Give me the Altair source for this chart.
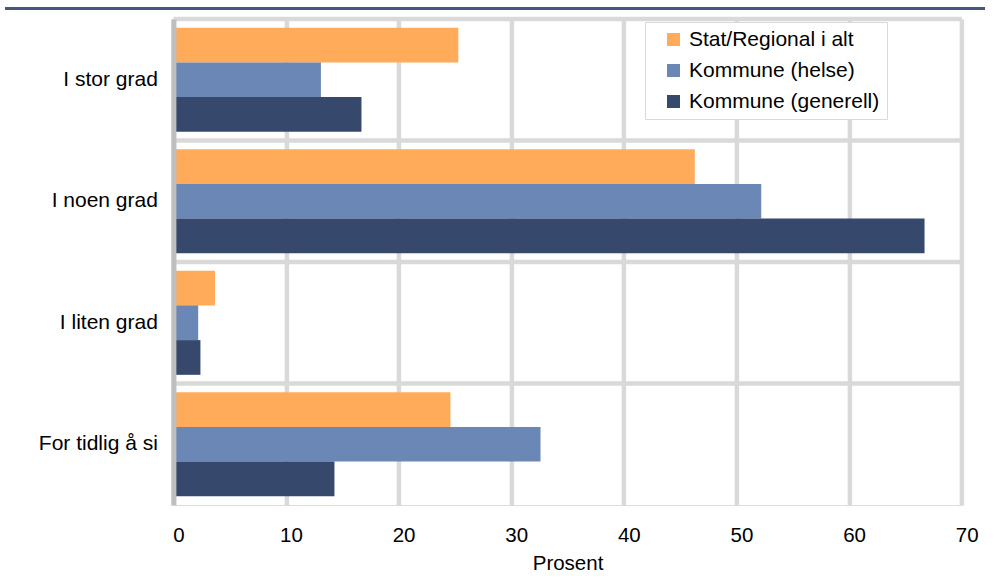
import altair as alt
import pandas as pd

# Survey answer categories (top to bottom) and respondent groups
categories = ["I stor grad", "I noen grad", "I liten grad", "For tidlig å si"]
series = ["Stat/Regional i alt", "Kommune (helse)", "Kommune (generell)"]
colors = ["#FFAB5A", "#6B87B5", "#36486B"]

# Percent per category for each group
stat_regional = [25.3, 46.3, 3.7, 24.6]
kommune_helse = [13.1, 52.2, 2.2, 32.6]
kommune_generell = [16.7, 66.7, 2.4, 14.3]

x_ticks = [0, 10, 20, 30, 40, 50, 60, 70]

rows = []
for name, vals in zip(series, [stat_regional, kommune_helse, kommune_generell]):
    for cat, v in zip(categories, vals):
        rows.append({"kategori": cat, "gruppe": name, "prosent": v})
df = pd.DataFrame(rows)
sep_df = pd.DataFrame({"kategori": categories})

FONT = "Liberation Sans"
GRID = "#D9D9D9"

y_scale = alt.Scale(domain=categories, paddingInner=0, paddingOuter=0)
y_axis = alt.Axis(
    title=None,
    grid=False,
    ticks=False,
    domain=True,
    domainColor="#BFBFBF",
    domainWidth=5,
    labelFont=FONT,
    labelFontSize=21,
    labelColor="#000000",
    labelPadding=16,
    zindex=1,
)

# Horizontal separators at the top of each category band
separators = alt.Chart(sep_df).mark_rule(color=GRID, strokeWidth=4.5).encode(
    y=alt.Y("kategori:N", sort=categories, scale=y_scale, bandPosition=0, axis=y_axis)
)

bars = alt.Chart(df).mark_bar().encode(
    x=alt.X(
        "prosent:Q",
        scale=alt.Scale(domain=[0, 70], nice=False),
        axis=alt.Axis(
            values=x_ticks,
            title="Prosent",
            grid=True,
            gridColor=GRID,
            gridWidth=4.5,
            domain=False,
            ticks=False,
            labelFont=FONT,
            labelFontSize=20.5,
            labelColor="#000000",
            labelPadding=20,
            labelOffset=5,
            labelFlush=False,
            titleFont=FONT,
            titleFontSize=20.5,
            titleFontWeight="normal",
            titleColor="#000000",
            titlePadding=8,
        ),
    ),
    y=alt.Y("kategori:N", sort=categories, scale=y_scale, axis=y_axis),
    yOffset=alt.YOffset(
        "gruppe:N",
        sort=series,
        scale=alt.Scale(domain=series, paddingInner=0, paddingOuter=0.25),
    ),
    color=alt.Color(
        "gruppe:N",
        sort=series,
        scale=alt.Scale(domain=series, range=colors),
        legend=alt.Legend(
            title=None,
            orient="none",
            legendX=471.6,
            legendY=3,
            symbolType="square",
            symbolSize=170,
            symbolStrokeWidth=0,
            symbolOffset=11,
            labelFont=FONT,
            labelFontSize=21,
            labelColor="#000000",
            labelOffset=5,
            labelLimit=400,
            rowPadding=9,
            padding=7,
            fillColor="#FFFFFF",
            strokeColor=GRID,
        ),
    ),
)

# Dark header rule across the top of the page
header = alt.Chart(sep_df).mark_rule(color="#44587F", strokeWidth=3).encode(
    x=alt.value(-168.4), x2=alt.value(811.6), y=alt.value(-10.5)
)

chart = (
    alt.layer(separators, bars, header)
    .properties(
        width=788.3,
        height=486,
        autosize=alt.AutoSizeParams(type="none"),
        padding={"left": 173.4, "top": 19, "right": 33.3, "bottom": 75},
    )
    .configure_view(stroke=GRID, strokeWidth=4.5)
    .configure_legend(strokeWidth=2.5)
    .configure(background="#FFFFFF")
)

chart.save("out.html", embed_options={"renderer": "svg", "actions": False})
